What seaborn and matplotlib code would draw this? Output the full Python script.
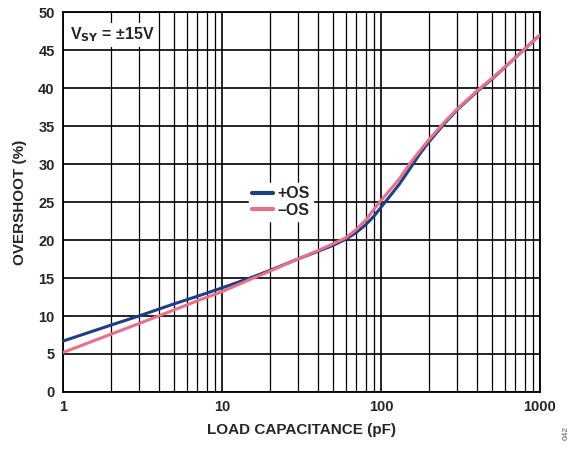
import numpy as np
import pandas as pd
import matplotlib
matplotlib.use("Agg")
import matplotlib.pyplot as plt
import seaborn as sns
from matplotlib.ticker import LogLocator, FixedLocator, NullFormatter

cap_pf = [1, 2, 3, 5, 7, 10, 15, 20, 30, 40, 50, 60, 70, 80, 90, 100, 130, 150, 175, 200, 250, 300, 400, 500, 700, 1000]
pos_os = [6.7, 8.8, 10.0, 11.6, 12.6, 13.7, 15.0, 16.0, 17.5, 18.5, 19.3, 20.1, 21.0, 22.0, 23.1, 24.3, 27.3, 29.2, 31.3, 32.9, 35.3, 37.1, 39.5, 41.2, 44.0, 47.0]
neg_os = [5.2, 7.6, 9.0, 10.8, 12.0, 13.2, 14.8, 15.9, 17.5, 18.6, 19.5, 20.3, 21.4, 22.6, 24.0, 25.2, 28.0, 29.9, 31.7, 33.2, 35.5, 37.2, 39.6, 41.3, 44.0, 47.0]
series_names = ["+OS", "\u2013OS"]

df = pd.DataFrame({
    "cap": cap_pf * 2,
    "os": pos_os + neg_os,
    "series": [series_names[0]] * len(cap_pf) + [series_names[1]] * len(cap_pf),
})

sns.set_theme(style="white")
plt.rcParams['font.family'] = ['Liberation Sans', 'DejaVu Sans']

fig = plt.figure(figsize=(5.75, 4.49), dpi=100)
ax = fig.add_axes([0.1096, 0.127, 0.8294, 0.846])

palette = {series_names[0]: "#1d3f87", series_names[1]: "#e8708a"}
sns.lineplot(data=df, x="cap", y="os", hue="series", palette=palette,
             linewidth=2.2, ax=ax, legend=True, zorder=3)

ax.set_xscale("log")
ax.set_xlim(1, 1000)
ax.set_ylim(0, 50)
ax.xaxis.set_major_locator(FixedLocator([1, 10, 100, 1000]))
ax.xaxis.set_minor_locator(LogLocator(base=10, subs=np.arange(2, 10)))
ax.xaxis.set_minor_formatter(NullFormatter())
ax.set_xticklabels(["1", "10", "100", "1000"])
ax.set_yticks(np.arange(0, 51, 5))
ax.grid(True, which="major", color="black", linewidth=1.2)
ax.grid(True, which="minor", axis="x", color="black", linewidth=0.9)
ax.tick_params(which="both", length=0, labelsize=10.5, pad=6)
for lbl in ax.get_xticklabels() + ax.get_yticklabels():
    lbl.set_fontweight("bold")
for s in ax.spines.values():
    s.set_color("black")
    s.set_linewidth(1.3)

ax.set_xlabel("LOAD CAPACITANCE (pF)", fontsize=11, fontweight="bold", labelpad=6)
ax.set_ylabel("OVERSHOOT (%)", fontsize=11, fontweight="bold", labelpad=8)

leg = ax.legend(loc="center left", bbox_to_anchor=(0.39, 0.5), frameon=True,
                fontsize=11.5, handlelength=1.3, handletextpad=0.3,
                borderpad=0.2, labelspacing=0.1, borderaxespad=0)
leg.get_frame().set_facecolor("white")
leg.get_frame().set_edgecolor("white")
leg.get_frame().set_alpha(1)
leg.get_frame().set_boxstyle("square", pad=0)
for t in leg.get_texts():
    t.set_fontweight("bold")
for h in leg.get_lines():
    h.set_linewidth(3)

ax.text(0.015, 0.965, "V$_{\\mathbf{SY}}$ = \u00b115V",
        transform=ax.transAxes, fontsize=11.5, fontweight="bold", va="top", ha="left",
        bbox=dict(facecolor="white", edgecolor="none", pad=2), zorder=5)

fig.text(0.985, 0.035, "042", rotation=90, fontsize=6, color="#555555", ha="center", va="center")

fig.savefig("out.png", dpi=100)
